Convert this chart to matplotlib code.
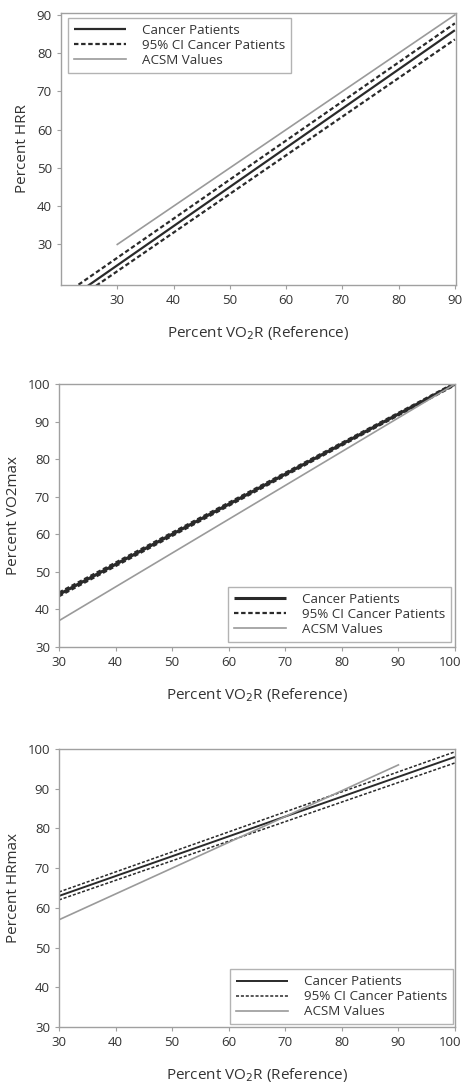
import matplotlib
matplotlib.use("Agg")
import matplotlib.pyplot as plt
import matplotlib.transforms as mtransforms
import numpy as np

plt.rcParams['font.family'] = ['Open Sans', 'DejaVu Sans']

# ---- Data ----
# Panel 1: Percent HRR vs Percent VO2R
hrr_x = [20, 90]
hrr_cancer = [14.3, 86.0]
hrr_ci_upper = [16.3, 87.8]
hrr_ci_lower = [12.9, 83.6]
hrr_acsm_x = [30, 90]
hrr_acsm = [30, 90]

# Panel 2: Percent VO2max vs Percent VO2R
vo2_x = [30, 100]
vo2_cancer = [44.0, 100.0]
vo2_ci_upper = [44.5, 100.3]
vo2_ci_lower = [43.5, 99.7]
vo2_acsm_x = [30, 100]
vo2_acsm = [37.0, 100.0]

# Panel 3: Percent HRmax vs Percent VO2R
hrm_x = [30, 100]
hrm_cancer = [63.0, 98.0]
hrm_ci_upper = [64.0, 99.3]
hrm_ci_lower = [62.0, 96.5]
hrm_acsm_x = [30, 90]
hrm_acsm = [57.0, 96.0]

labels = ["Cancer Patients", "95% CI Cancer Patients", "ACSM Values"]
xlabel = "Percent VO$_2$R (Reference)"
ylabels = ["Percent HRR", "Percent VO2max", "Percent HRmax"]

TXT = "#333333"
SPINE = "#a0a0a0"
C_CANCER = "#2a2a2a"
C_ACSM = "#9a9a9a"

fig = plt.figure(figsize=(4.64, 10.90), dpi=100)

W = 1.0 / 464
H = 1.0 / 1090
def rect(l, t, r, b):
    return [l * W, 1 - b * H, (r - l) * W, (b - t) * H]

ax1 = fig.add_axes(rect(61, 13, 456, 285))
ax2 = fig.add_axes(rect(59, 384, 455, 647))
ax3 = fig.add_axes(rect(59, 749, 455, 1027))

def style(ax, xlim, ylim, xticks, yticks, ylab):
    ax.set_xlim(*xlim)
    ax.set_ylim(*ylim)
    ax.set_xticks(xticks)
    ax.set_yticks(yticks)
    for s in ax.spines.values():
        s.set_color(SPINE)
        s.set_linewidth(1.0)
    ax.tick_params(axis='both', colors=SPINE, labelcolor=TXT, labelsize=9.5,
                   length=3, width=0.8, direction='out')
    ax.set_xlabel(xlabel, fontsize=11, color=TXT, labelpad=12)
    ax.set_ylabel(ylab, fontsize=11, color=TXT, labelpad=5)

def nudge_last_xlabel(ax):
    offset = mtransforms.ScaledTranslation(-5 / 100, 0, fig.dpi_scale_trans)
    lab = ax.get_xticklabels()[-1]
    lab.set_transform(lab.get_transform() + offset)

def draw(ax, x, c, up, lo, ax_x, ac, lw_c=1.3, lw_ci=1.4):
    ax.plot(x, c, color=C_CANCER, lw=lw_c, solid_capstyle='butt', label=labels[0])
    ax.plot(x, up, color=C_CANCER, lw=lw_ci, ls=(0, (2.0, 1.2)), label=labels[1])
    ax.plot(x, lo, color=C_CANCER, lw=lw_ci, ls=(0, (2.0, 1.2)))
    ax.plot(ax_x, ac, color=C_ACSM, lw=1.2, label=labels[2])

draw(ax1, hrr_x, hrr_cancer, hrr_ci_upper, hrr_ci_lower, hrr_acsm_x, hrr_acsm,
     lw_c=1.6, lw_ci=1.6)
style(ax1, (20, 90.2), (19.4, 90.5), [30, 40, 50, 60, 70, 80, 90],
      [30, 40, 50, 60, 70, 80, 90], ylabels[0])

draw(ax2, vo2_x, vo2_cancer, vo2_ci_upper, vo2_ci_lower, vo2_acsm_x, vo2_acsm,
     lw_c=2.2, lw_ci=1.6)
style(ax2, (30, 100), (30, 100), [30, 40, 50, 60, 70, 80, 90, 100],
      [30, 40, 50, 60, 70, 80, 90, 100], ylabels[1])
nudge_last_xlabel(ax2)

draw(ax3, hrm_x, hrm_cancer, hrm_ci_upper, hrm_ci_lower, hrm_acsm_x, hrm_acsm,
     lw_c=1.4, lw_ci=1.1)
style(ax3, (30, 100), (30, 100), [30, 40, 50, 60, 70, 80, 90, 100],
      [30, 40, 50, 60, 70, 80, 90, 100], ylabels[2])
nudge_last_xlabel(ax3)

def legend(ax, loc, anchor):
    leg = ax.legend(loc=loc, bbox_to_anchor=anchor, frameon=True, fancybox=False,
                    fontsize=9.6, handlelength=3.9, handletextpad=1.2,
                    labelspacing=0.15, borderpad=0.45, borderaxespad=0.0)
    leg.get_frame().set_edgecolor(SPINE)
    leg.get_frame().set_linewidth(1.0)
    for t in leg.get_texts():
        t.set_color(TXT)
    return leg

legend(ax1, 'upper left', (0.018, 0.983))
legend(ax2, 'lower right', (0.99, 0.02))
legend(ax3, 'lower right', (0.995, 0.01))

fig.savefig("out.png", dpi=100)
